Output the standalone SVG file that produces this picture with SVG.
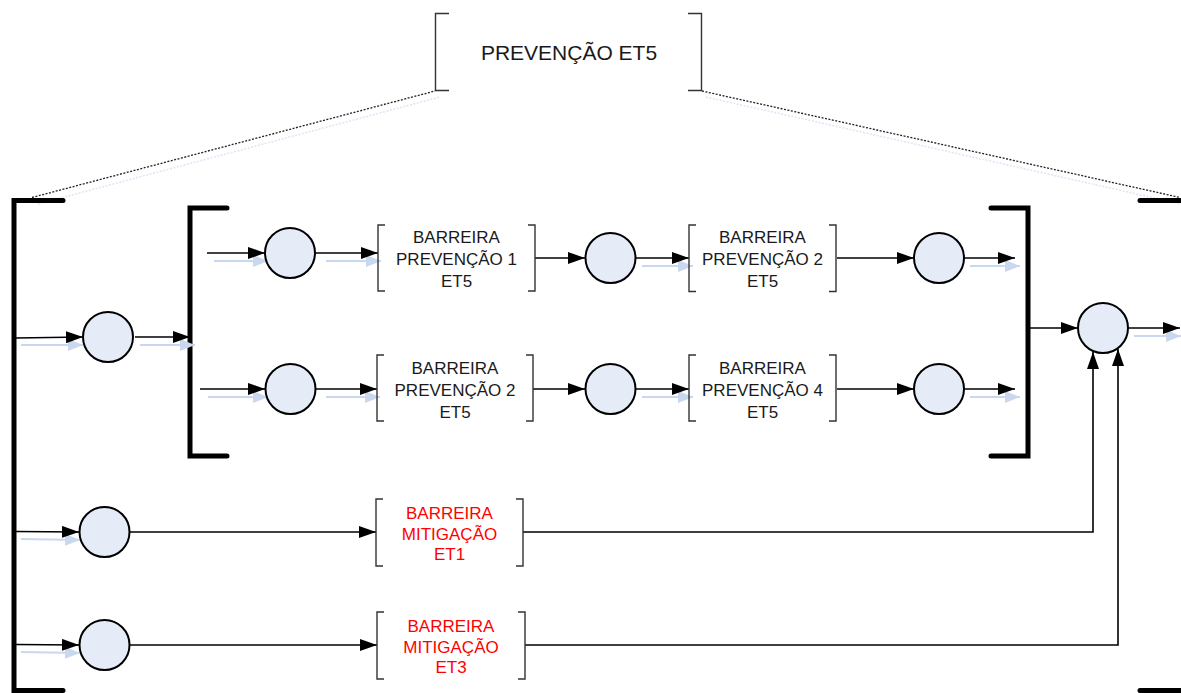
<svg xmlns="http://www.w3.org/2000/svg" width="1181" height="693" viewBox="0 0 1181 693">
  <style>
    .frame { fill: none; stroke: #000; stroke-width: 5; stroke-linecap: round; stroke-linejoin: miter; }
    .bracket { fill: none; stroke: #333; stroke-width: 1.4; }
    .state { fill: #e5ecf7; stroke: #000; stroke-width: 2; }
    .wire { fill: none; stroke: #000; stroke-width: 1.6; }
    .arrow { marker-end: url(#head); }
    .ghost { fill: none; stroke: #c9d8ee; stroke-width: 2.2; marker-end: url(#ghostHead); }
    .dots { fill: none; stroke: #222; stroke-width: 1.3; stroke-dasharray: 2 1.5; }
    .dotsGhost { fill: none; stroke: #dde7f4; stroke-width: 1.6; stroke-dasharray: 2 1.5; }
    text { font-family: "Liberation Sans", Arial, sans-serif; text-anchor: middle; }
    .lbl { font-size: 17px; fill: #1a1a1a; }
    .red { font-size: 17px; fill: #ff0000; }
    .title { font-size: 21px; fill: #1a1a1a; }
  </style>
  <defs>
    <marker id="head" markerUnits="userSpaceOnUse" markerWidth="18" markerHeight="12" refX="17" refY="6" orient="auto">
      <path d="M0,0 L17,6 L0,12 Z" fill="#000"/>
    </marker>
    <marker id="ghostHead" markerUnits="userSpaceOnUse" markerWidth="18" markerHeight="12" refX="15" refY="6" orient="auto">
      <path d="M0,0 L15,6 L0,12 Z" fill="#c9d8ee"/>
    </marker>
    <filter id="soft" x="-5%" y="-50%" width="110%" height="200%">
      <feGaussianBlur stdDeviation="0.7"/>
    </filter>
  </defs>

  <!-- zoom-out lines from the title bracket down to the outer frame -->
  <g id="zoom-lines">
    <line class="dotsGhost" x1="38" y1="204" x2="440" y2="97"/>
    <line class="dotsGhost" x1="706" y1="97" x2="1181" y2="204"/>
    <line class="dots" x1="32" y1="197.5" x2="435" y2="91"/>
    <line class="dots" x1="702" y1="91" x2="1180" y2="197.5"/>
  </g>

  <!-- title -->
  <g id="title">
    <path class="bracket" d="M449,13.5 H435.5 V90.5 H449"/>
    <path class="bracket" d="M688,13.5 H701.5 V90.5 H688"/>
    <text class="title" x="569" y="60">PREVENÇÃO ET5</text>
  </g>

  <!-- outer frame -->
  <g id="outer-frame">
    <path class="frame" d="M63,200.5 H14 V690.5 H63"/>
    <path class="frame" d="M1140,200.5 H1184"/>
    <path class="frame" d="M1140,690.5 H1184"/>
  </g>

  <!-- inner frame around the two prevention rows -->
  <g id="inner-frame">
    <path class="frame" d="M227,208 H190 V456 H227"/>
    <path class="frame" d="M991,208 H1028 V456 H991"/>
  </g>

  <!-- connectors -->
  <g id="connectors">
    <g id="shadows" filter="url(#soft)">
      <line class="ghost" x1="21" y1="345" x2="83" y2="345"/>
      <line class="ghost" x1="140" y1="345" x2="195" y2="345"/>
      <line class="ghost" x1="214" y1="261" x2="268" y2="261"/>
      <line class="ghost" x1="326" y1="261" x2="381" y2="261"/>
      <line class="ghost" x1="642" y1="266" x2="693" y2="266"/>
      <line class="ghost" x1="970" y1="266" x2="1020" y2="266"/>
      <line class="ghost" x1="208" y1="397" x2="268" y2="397"/>
      <line class="ghost" x1="326" y1="397" x2="380" y2="397"/>
      <line class="ghost" x1="642" y1="397" x2="693" y2="397"/>
      <line class="ghost" x1="970" y1="397" x2="1020" y2="397"/>
      <line class="ghost" x1="1134" y1="336" x2="1181" y2="336"/>
      <line class="ghost" x1="21" y1="539" x2="80" y2="540"/>
      <line class="ghost" x1="21" y1="652" x2="80" y2="653"/>
    </g>

    <line class="wire arrow" x1="16" y1="338" x2="83" y2="337"/>
    <line class="wire arrow" x1="135" y1="337" x2="190" y2="337"/>

    <line class="wire arrow" x1="207" y1="253" x2="265" y2="253"/>
    <line class="wire arrow" x1="316" y1="253" x2="378" y2="253"/>
    <line class="wire arrow" x1="535" y1="258" x2="585" y2="258"/>
    <line class="wire arrow" x1="636" y1="258" x2="689" y2="258"/>
    <line class="wire arrow" x1="837" y1="258" x2="914" y2="258"/>
    <line class="wire arrow" x1="964" y1="258" x2="1015" y2="258"/>

    <line class="wire arrow" x1="200" y1="389" x2="265" y2="389"/>
    <line class="wire arrow" x1="316" y1="389" x2="377" y2="389"/>
    <line class="wire arrow" x1="533" y1="389" x2="585" y2="389"/>
    <line class="wire arrow" x1="636" y1="389" x2="689" y2="389"/>
    <line class="wire arrow" x1="837" y1="389" x2="914" y2="389"/>
    <line class="wire arrow" x1="964" y1="389" x2="1015" y2="389"/>

    <line class="wire arrow" x1="1028" y1="328" x2="1078" y2="328"/>
    <line class="wire arrow" x1="1128" y1="328" x2="1180" y2="328"/>

    <line class="wire arrow" x1="16" y1="531.5" x2="79" y2="532"/>
    <line class="wire arrow" x1="130" y1="532" x2="376" y2="532"/>
    <line class="wire arrow" x1="16" y1="644.5" x2="79" y2="645"/>
    <line class="wire arrow" x1="130" y1="645" x2="377" y2="645"/>

    <polyline class="wire arrow" points="523,532 1093,532 1093,352"/>
    <polyline class="wire arrow" points="525,645 1118,645 1118,349"/>
  </g>

  <!-- state circles -->
  <g id="state-entry"><circle class="state" cx="108" cy="337" r="25"/></g>
  <g id="state-r1-a"><circle class="state" cx="290" cy="253" r="25"/></g>
  <g id="state-r1-b"><circle class="state" cx="610.5" cy="258" r="25"/></g>
  <g id="state-r1-c"><circle class="state" cx="939" cy="258" r="25"/></g>
  <g id="state-r2-a"><circle class="state" cx="290.5" cy="389" r="25"/></g>
  <g id="state-r2-b"><circle class="state" cx="610.5" cy="389" r="25"/></g>
  <g id="state-r2-c"><circle class="state" cx="939" cy="389" r="25"/></g>
  <g id="state-merge"><circle class="state" cx="1103" cy="328" r="25"/></g>
  <g id="state-m1"><circle class="state" cx="104.5" cy="532" r="25"/></g>
  <g id="state-m3"><circle class="state" cx="104.5" cy="645" r="25"/></g>

  <!-- barrier boxes -->
  <g id="barrier-p1">
    <path class="bracket" d="M385,225 H378 V291 H385"/>
    <path class="bracket" d="M528,225 H535 V291 H528"/>
    <text class="lbl" x="456.5" y="243">BARREIRA</text>
    <text class="lbl" x="456.5" y="265">PREVENÇÃO 1</text>
    <text class="lbl" x="456.5" y="287">ET5</text>
  </g>
  <g id="barrier-p2-top">
    <path class="bracket" d="M696,225 H689 V291.5 H696"/>
    <path class="bracket" d="M829,225 H836 V291.5 H829"/>
    <text class="lbl" x="762.5" y="243">BARREIRA</text>
    <text class="lbl" x="762.5" y="265">PREVENÇÃO 2</text>
    <text class="lbl" x="762.5" y="287">ET5</text>
  </g>
  <g id="barrier-p2-bottom">
    <path class="bracket" d="M384,355 H377 V421 H384"/>
    <path class="bracket" d="M526,355 H533 V421 H526"/>
    <text class="lbl" x="455" y="374">BARREIRA</text>
    <text class="lbl" x="455" y="396">PREVENÇÃO 2</text>
    <text class="lbl" x="455" y="418">ET5</text>
  </g>
  <g id="barrier-p4">
    <path class="bracket" d="M696,355 H689 V421 H696"/>
    <path class="bracket" d="M829,355 H836 V421 H829"/>
    <text class="lbl" x="762.5" y="374">BARREIRA</text>
    <text class="lbl" x="762.5" y="396">PREVENÇÃO 4</text>
    <text class="lbl" x="762.5" y="418">ET5</text>
  </g>
  <g id="barrier-m1">
    <path class="bracket" d="M383,499 H376 V566 H383"/>
    <path class="bracket" d="M516,499 H523 V566 H516"/>
    <text class="red" x="449.5" y="519">BARREIRA</text>
    <text class="red" x="449.5" y="539.5">MITIGAÇÃO</text>
    <text class="red" x="449.5" y="560">ET1</text>
  </g>
  <g id="barrier-m3">
    <path class="bracket" d="M384,612 H377 V679 H384"/>
    <path class="bracket" d="M518,612 H525 V679 H518"/>
    <text class="red" x="451" y="632">BARREIRA</text>
    <text class="red" x="451" y="652.5">MITIGAÇÃO</text>
    <text class="red" x="451" y="673">ET3</text>
  </g>
</svg>
